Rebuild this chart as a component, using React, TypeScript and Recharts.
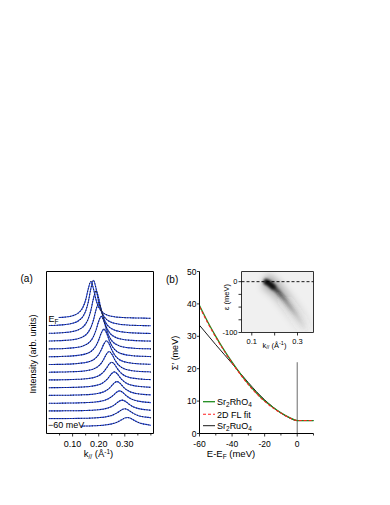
import React from 'react';
import {
  LineChart, Line, XAxis, YAxis, ReferenceArea, ReferenceLine, CartesianGrid
} from 'recharts';

const FONT = '"Liberation Sans", Arial, Helvetica, sans-serif';

// ---- panel (a): MDC waterfall, E_F (top) down to -60 meV (bottom)
const kGrid = [0.01, 0.04, 0.07, 0.10, 0.12, 0.14, 0.15, 0.16, 0.17, 0.18, 0.19, 0.20, 0.21, 0.22, 0.23,
  0.24, 0.25, 0.26, 0.27, 0.28, 0.29, 0.30, 0.31, 0.32, 0.33, 0.35, 0.37, 0.39, 0.40];
const mdcOffsets = [115, 107.3, 99.6, 91.9, 84.1, 76.4, 68.7, 61, 53.3, 45.6, 37.9, 30.1, 22.4, 14.7, 7];
const mdc00 = [0.6, 0.9, 1.4, 2.8, 5.1, 11.4, 18.5, 29.6, 37, 29.6, 18.5, 11.4, 7.4, 5.1, 3.7, 2.8, 2.2, 1.7, 1.4, 1.2, 1.0, 0.9, 0.7, 0.7, 0.6, 0.5, 0.4, 0.3, 0.3];
const mdc01 = [0.7, 1.0, 1.6, 3.0, 5.0, 9.9, 15.1, 24.1, 37.5, 46, 37.5, 24.1, 15.1, 9.9, 6.9, 5.0, 3.8, 3.0, 2.4, 1.9, 1.6, 1.4, 1.2, 1.0, 0.9, 0.7, 0.6, 0.5, 0.4];
const mdc02 = [0.6, 0.9, 1.4, 2.4, 3.9, 7.0, 10.0, 15.0, 23.5, 35.6, 43, 35.6, 23.5, 15.0, 10.0, 7.0, 5.1, 3.9, 3.0, 2.4, 2.0, 1.7, 1.4, 1.2, 1.0, 0.8, 0.6, 0.5, 0.4];
const mdc03 = [0.6, 0.8, 1.2, 1.9, 2.9, 4.9, 6.6, 9.5, 14.1, 21.6, 32.0, 38, 32.0, 21.6, 14.1, 9.5, 6.6, 4.9, 3.7, 2.9, 2.3, 1.9, 1.6, 1.4, 1.2, 0.9, 0.7, 0.6, 0.5];
const mdc04 = [0.5, 0.6, 0.9, 1.5, 2.2, 3.5, 4.6, 6.2, 8.7, 12.9, 19.5, 28.1, 33, 28.1, 19.5, 12.9, 8.7, 6.2, 4.6, 3.5, 2.7, 2.2, 1.8, 1.5, 1.3, 0.9, 0.7, 0.6, 0.5];
const mdc05 = [0.4, 0.5, 0.8, 1.2, 1.7, 2.5, 3.2, 4.1, 5.6, 7.9, 11.5, 17.1, 24.1, 28, 24.1, 17.1, 11.5, 7.9, 5.6, 4.1, 3.2, 2.5, 2.0, 1.7, 1.4, 1.0, 0.8, 0.6, 0.5];
const mdc06 = [0.3, 0.4, 0.6, 0.9, 1.3, 1.9, 2.3, 2.9, 3.8, 5.1, 7.1, 10.3, 15.1, 20.9, 24, 20.9, 15.1, 10.3, 7.1, 5.1, 3.8, 2.9, 2.3, 1.9, 1.5, 1.1, 0.8, 0.6, 0.5];
const mdc07 = [0.3, 0.4, 0.5, 0.8, 1.0, 1.4, 1.7, 2.2, 2.7, 3.5, 4.7, 6.6, 9.4, 13.6, 18.5, 21, 18.5, 13.6, 9.4, 6.6, 4.7, 3.5, 2.7, 2.2, 1.7, 1.2, 0.9, 0.7, 0.5];
const mdc08 = [0.3, 0.3, 0.5, 0.7, 0.9, 1.2, 1.4, 1.7, 2.1, 2.6, 3.4, 4.5, 6.2, 8.7, 12.2, 16.1, 18, 16.1, 12.2, 8.7, 6.2, 4.5, 3.4, 2.6, 2.1, 1.4, 1.0, 0.7, 0.6];
const mdc09 = [0.2, 0.3, 0.4, 0.5, 0.7, 0.9, 1.1, 1.3, 1.6, 2.0, 2.5, 3.2, 4.2, 5.8, 8.0, 11.1, 14.4, 16, 14.4, 11.1, 8.0, 5.8, 4.2, 3.2, 2.5, 1.6, 1.1, 0.8, 0.6];
const mdc10 = [0.2, 0.3, 0.3, 0.5, 0.6, 0.8, 0.9, 1.0, 1.2, 1.5, 1.8, 2.3, 3.0, 3.9, 5.3, 7.2, 9.9, 12.7, 14, 12.7, 9.9, 7.2, 5.3, 3.9, 3.0, 1.8, 1.2, 0.9, 0.7];
const mdc11 = [0.2, 0.2, 0.3, 0.4, 0.5, 0.7, 0.8, 0.9, 1.0, 1.2, 1.5, 1.8, 2.3, 2.9, 3.8, 5.1, 6.9, 9.1, 11.4, 12.5, 11.4, 9.1, 6.9, 5.1, 3.8, 2.3, 1.5, 1.0, 0.8];
const mdc12 = [0.2, 0.2, 0.3, 0.3, 0.4, 0.5, 0.6, 0.7, 0.8, 1.0, 1.1, 1.4, 1.7, 2.1, 2.7, 3.5, 4.6, 6.2, 8.2, 10.1, 11, 10.1, 8.2, 6.2, 4.6, 2.7, 1.7, 1.1, 0.8];
const mdc13 = [0.2, 0.2, 0.2, 0.3, 0.4, 0.5, 0.5, 0.6, 0.7, 0.8, 1.0, 1.2, 1.4, 1.7, 2.1, 2.7, 3.4, 4.5, 5.9, 7.6, 9.3, 10, 9.3, 7.6, 5.9, 3.4, 2.1, 1.4, 1.0];
const mdc14 = [0.1, 0.2, 0.2, 0.3, 0.4, 0.4, 0.5, 0.5, 0.6, 0.7, 0.8, 1.0, 1.1, 1.4, 1.7, 2.1, 2.6, 3.3, 4.3, 5.6, 7.1, 8.4, 9, 8.4, 7.0, 4.3, 2.6, 1.7, 1.1];
const mdcs = [mdc00, mdc01, mdc02, mdc03, mdc04, mdc05, mdc06, mdc07, mdc08, mdc09, mdc10, mdc11, mdc12, mdc13, mdc14];
const kTicks = [0.05, 0.10, 0.15, 0.20, 0.25, 0.30, 0.35, 0.40];
const kLabels = [0.10, 0.20, 0.30];

// ---- panel (b): real part of self energy
const energy = [-60, -55, -50, -45, -40, -35, -30, -25, -20, -15, -10, -5, 0, 5, 10];
const sigmaRh = [39.5, 34.5, 30.0, 25.8, 22.0, 18.5, 15.3, 12.5, 10.1, 8.1, 6.4, 5.0, 4.0, 4.0, 4.0];
const sigmaFit = [39.1, 34.2, 29.7, 25.6, 21.8, 18.3, 15.1, 12.3, 9.9, 7.9, 6.3, 4.9, 4.0, 4.0, 4.0];
const sigmaRu = [33.4, 30.4, 27.4, 24.5, 21.6, 18.6, 15.7, 12.9, 10.4, 8.2, 6.3, 4.9, 4.0, 4.0, 4.0];
const eTicks = [-60, -50, -40, -30, -20, -10, 0, 10];
const eLabels = [-60, -40, -20, 0];
const sTicks = [0, 10, 20, 30, 40, 50];

// ---- inset: dispersion seen in the ARPES image
const bandK = [0.155, 0.170, 0.185, 0.200, 0.215, 0.230, 0.245, 0.260, 0.275, 0.290, 0.305, 0.320, 0.335];
const bandE = [1, -2, -7, -13, -20, -28, -36, -45, -54, -63, -73, -84, -96];
const insetKTicks = [0.1, 0.2, 0.3];
const insetKLabels = [0.1, 0.3];
const insetETicks = [0, -25, -50, -75, -100];
const insetELabels = [0, -100];

const rowsA = kGrid.map((k, j) => {
  const row: Record<string, number> = { k };
  mdcs.forEach((c, i) => { row['c' + i] = mdcOffsets[i] + c[j]; });
  return row;
});
const rowsB = energy.map((e, i) => ({ e, rh: sigmaRh[i], fit: sigmaFit[i], ru: sigmaRu[i] }));
const rowsInset = bandK.map((k, i) => ({ k, e: bandE[i] }));

const isIn = (arr: number[], v: number) => arr.some(a => Math.abs(a - v) < 1e-9);

// eslint-disable-next-line @typescript-eslint/no-explicit-any
function BottomTick(props: any) {
  const { x, y, payload, labels, fontSize, len, minorLen, labelDy, fmt } = props;
  const major = isIn(labels, payload.value);
  return (
    <g>
      <line x1={x} y1={y} x2={x} y2={y + (major ? len : minorLen)} stroke="#000" strokeWidth={0.8} />
      {major && (
        <text x={x} y={y + labelDy} textAnchor="middle" fontSize={fontSize} fontFamily={FONT} fill="#000">
          {fmt(payload.value)}
        </text>
      )}
    </g>
  );
}

// eslint-disable-next-line @typescript-eslint/no-explicit-any
function LeftTick(props: any) {
  const { x, y, payload, labels, fontSize, len, minorLen, labelDx, fmt } = props;
  const major = isIn(labels, payload.value);
  return (
    <g>
      <line x1={x} y1={y} x2={x - (major ? len : minorLen)} y2={y} stroke="#000" strokeWidth={0.8} />
      {major && (
        <text x={x - labelDx} y={y + fontSize * 0.36} textAnchor="end" fontSize={fontSize} fontFamily={FONT} fill="#000">
          {fmt(payload.value)}
        </text>
      )}
    </g>
  );
}

function PanelA() {
  return (
    <LineChart width={170} height={230} data={rowsA} margin={{ top: 21.5, right: 16.5, bottom: 0, left: 46.5 }}>
      <XAxis
        dataKey="k" type="number" domain={[0, 0.41]} ticks={kTicks} interval={0}
        axisLine={false} tickLine={false} tickSize={0} tickMargin={0} height={46.5}
        tick={(p: any) => <BottomTick {...p} labels={kLabels} fontSize={9} len={3} minorLen={2} labelDy={13.5} fmt={(v: number) => v.toFixed(2)} />}
      />
      <YAxis hide type="number" domain={[0, 162]} />
      <ReferenceArea x1={0} x2={0.41} y1={0} y2={162} fill="none" stroke="#000" strokeWidth={1} />
      {mdcs.map((_, i) => (
        <Line key={'fit' + i} dataKey={'c' + i} type="monotone" stroke="#2446e0" strokeWidth={1.1}
          dot={false} isAnimationActive={false} />
      ))}
      {mdcs.map((_, i) => (
        <Line key={'pts' + i} dataKey={'c' + i} type="monotone" stroke="#222" strokeWidth={1.1}
          strokeDasharray="0.1 2.6" strokeLinecap="round" dot={false} isAnimationActive={false} />
      ))}
    </LineChart>
  );
}

function PanelB() {
  return (
    <LineChart width={180} height={230} data={rowsB} margin={{ top: 21.5, right: 16.5, bottom: 16.5, left: 19.5 }}>
      <XAxis
        dataKey="e" type="number" domain={[-60, 10]} ticks={eTicks} interval={0}
        axisLine={{ stroke: '#000', strokeWidth: 1 }} tickLine={false} tickSize={0} tickMargin={0} height={30}
        tick={(p: any) => <BottomTick {...p} labels={eLabels} fontSize={8.5} len={3} minorLen={2} labelDy={13.5} fmt={(v: number) => String(v)} />}
      />
      <YAxis
        type="number" domain={[0, 50]} ticks={sTicks} interval={0} width={30}
        axisLine={{ stroke: '#000', strokeWidth: 1 }} tickLine={false} tickSize={0} tickMargin={0}
        tick={(p: any) => <LeftTick {...p} labels={sTicks} fontSize={8.5} len={2.5} minorLen={2} labelDx={3} fmt={(v: number) => String(v)} />}
      />
      <ReferenceLine segment={[{ x: 0, y: 0 }, { x: 0, y: 22 }]} stroke="#444" strokeWidth={0.8} />
      <Line dataKey="ru" type="monotone" stroke="#1a1a1a" strokeWidth={1} dot={false} isAnimationActive={false} />
      <Line dataKey="rh" type="monotone" stroke="#1e8c1e" strokeWidth={1.3} dot={false} isAnimationActive={false} />
      <Line dataKey="fit" type="monotone" stroke="#ff1f1f" strokeWidth={1.1} strokeDasharray="3 2" dot={false} isAnimationActive={false} />
    </LineChart>
  );
}

function Inset() {
  return (
    <LineChart width={130} height={100} data={rowsInset} margin={{ top: 9.5, right: 16.5, bottom: 9.5, left: 21.5 }}>
      <defs>
        <linearGradient id="bandHalo" x1="0" y1="0" x2="0" y2="1">
          <stop offset="0" stopColor="#000" stopOpacity={0.32} />
          <stop offset="0.4" stopColor="#222" stopOpacity={0.17} />
          <stop offset="1" stopColor="#555" stopOpacity={0.04} />
        </linearGradient>
        <linearGradient id="bandCore" x1="0" y1="0" x2="0" y2="1">
          <stop offset="0" stopColor="#000" stopOpacity={0.9} />
          <stop offset="0.15" stopColor="#000" stopOpacity={0.68} />
          <stop offset="0.4" stopColor="#222" stopOpacity={0.38} />
          <stop offset="0.7" stopColor="#444" stopOpacity={0.15} />
          <stop offset="1" stopColor="#666" stopOpacity={0.03} />
        </linearGradient>
        <filter id="blurWide" x="-60%" y="-60%" width="220%" height="220%">
          <feGaussianBlur stdDeviation="3.8" />
        </filter>
        <filter id="blurCore" x="-60%" y="-60%" width="220%" height="220%">
          <feGaussianBlur stdDeviation="1.6" />
        </filter>
      </defs>
      <CartesianGrid fill="#f0f0f0" stroke="none" horizontal={false} vertical={false} />
      <XAxis
        dataKey="k" type="number" domain={[0.055, 0.37]} ticks={insetKTicks} interval={0} allowDataOverflow
        axisLine={false} tickLine={false} tickSize={0} tickMargin={0} height={20}
        tick={(p: any) => <BottomTick {...p} labels={insetKLabels} fontSize={7.5} len={3} minorLen={3} labelDy={11} fmt={(v: number) => v.toFixed(1)} />}
      />
      <YAxis
        type="number" domain={[-100, 20]} ticks={insetETicks} interval={0} width={20} allowDataOverflow
        axisLine={false} tickLine={false} tickSize={0} tickMargin={0}
        tick={(p: any) => <LeftTick {...p} labels={insetELabels} fontSize={7.5} len={3} minorLen={3} labelDx={4} fmt={(v: number) => String(v)} />}
      />
      <Line dataKey="e" type="monotone" stroke="url(#bandHalo)" strokeWidth={15} filter="url(#blurWide)"
        dot={false} isAnimationActive={false} />
      <Line dataKey="e" type="monotone" stroke="url(#bandCore)" strokeWidth={4.5} filter="url(#blurCore)"
        dot={false} isAnimationActive={false} />
      <Line dataKey={(d: any) => (d.e >= -14 ? d.e : null)} type="monotone" stroke="#000" strokeOpacity={0.72}
        strokeWidth={5} filter="url(#blurCore)" dot={false} isAnimationActive={false} />
      <ReferenceLine y={0} stroke="#000" strokeWidth={0.9} strokeDasharray="3 2" />
      <ReferenceArea x1={0.055} x2={0.37} y1={-100} y2={20} fill="none" stroke="#333" strokeWidth={1} />
    </LineChart>
  );
}

function Overlay() {
  const t = { fontFamily: FONT, fill: '#000' };
  return (
    <svg width={390} height={505} style={{ position: 'absolute', left: 0, top: 0, pointerEvents: 'none' }}>
      <text x={20.5} y={282} fontSize={10} {...t}>(a)</text>
      <text x={166} y={282.5} fontSize={10} {...t}>(b)</text>

      <text transform="translate(36,354) rotate(-90)" textAnchor="middle" fontSize={9} {...t}>Intensity (arb. units)</text>
      <text x={98.5} y={457} textAnchor="middle" fontSize={9.5} {...t}>
        k<tspan fontSize={6.5} dy={2}>//</tspan><tspan dy={-2}> (Å</tspan><tspan fontSize={6.5} dy={-3.5}>-1</tspan><tspan dy={3.5}>)</tspan>
      </text>

      <rect x={47.5} y={313} width={11} height={10.5} fill="#fff" />
      <text x={48.5} y={321.5} fontSize={9} {...t}>E<tspan fontSize={6.5} dy={2}>F</tspan></text>
      <rect x={47.5} y={419.5} width={34} height={10} fill="#fff" />
      <text x={48} y={427.5} fontSize={9} {...t}>−60 meV</text>

      <text transform="translate(178,353) rotate(-90)" textAnchor="middle" fontSize={9} {...t}>Σ′ (meV)</text>
      <text x={231} y={457} textAnchor="middle" fontSize={9.5} {...t}>
        E-E<tspan fontSize={6.5} dy={2}>F</tspan><tspan dy={-2}> (meV)</tspan>
      </text>

      <line x1={203} y1={401.7} x2={215} y2={401.7} stroke="#1e8c1e" strokeWidth={1.3} />
      <text x={217} y={405} fontSize={9} {...t}>Sr<tspan fontSize={6.5} dy={2}>2</tspan><tspan dy={-2}>RhO</tspan><tspan fontSize={6.5} dy={2}>4</tspan></text>
      <line x1={203} y1={414.3} x2={215} y2={414.3} stroke="#ff1f1f" strokeWidth={1.1} strokeDasharray="3 2" />
      <text x={217} y={417.5} fontSize={9} {...t}>2D FL fit</text>
      <line x1={203} y1={425.7} x2={215} y2={425.7} stroke="#1a1a1a" strokeWidth={1} />
      <text x={217} y={429} fontSize={9} {...t}>Sr<tspan fontSize={6.5} dy={2}>2</tspan><tspan dy={-2}>RuO</tspan><tspan fontSize={6.5} dy={2}>4</tspan></text>

      <text transform="translate(229,297) rotate(-90)" textAnchor="middle" fontSize={7.5} {...t}>ε (meV)</text>
      <text x={274.5} y={347.5} textAnchor="middle" fontSize={7.5} {...t}>
        k<tspan fontSize={5.5} dy={1.5}>//</tspan><tspan dy={-1.5}> (Å</tspan><tspan fontSize={5.5} dy={-3}>-1</tspan><tspan dy={3}>)</tspan>
      </text>
    </svg>
  );
}

export default function App() {
  return (
    <div style={{ position: 'absolute', left: 0, top: 0, width: 390, height: 505, background: '#fff', fontFamily: FONT }}>
      <div style={{ position: 'absolute', left: 0, top: 250 }}><PanelA /></div>
      <div style={{ position: 'absolute', left: 150, top: 250 }}><PanelB /></div>
      <div style={{ position: 'absolute', left: 200, top: 262 }}><Inset /></div>
      <Overlay />
    </div>
  );
}
